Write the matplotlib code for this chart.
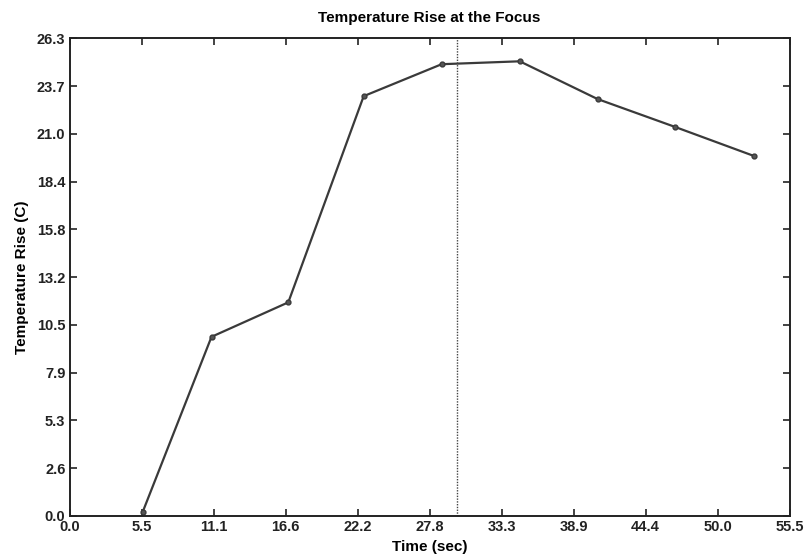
import numpy as np
import matplotlib.pyplot as plt

plt.rcParams["font.family"] = ["Liberation Sans", "DejaVu Sans"]
plt.rcParams["font.weight"] = "bold"

# values
time_s = [5.63, 10.94, 16.86, 22.67, 28.68, 34.7, 40.7, 46.65, 52.73]
temp_rise = [0.2, 9.86, 11.76, 23.12, 24.88, 25.04, 22.96, 21.43, 19.83]
focus_time = 29.9

x_ticks = [0.0, 5.5, 11.1, 16.6, 22.2, 27.8, 33.3, 38.9, 44.4, 50.0, 55.5]
y_ticks = [0.0, 2.6, 5.3, 7.9, 10.5, 13.2, 15.8, 18.4, 21.0, 23.7, 26.3]
x_max = 55.5
y_max = 26.3

fig = plt.figure(figsize=(8.09, 5.57), dpi=100)
ax = fig.add_axes([0.086, 0.074, 0.890, 0.857])

ax.plot(time_s, temp_rise, color="#3a3a3a", lw=1.6, marker="o", ms=3.5,
        mec="#3a3a3a", mfc="#555555")
ax.axvline(focus_time, color="#444444", lw=1.0, ls=(0, (1, 1)))

ax.set_xlim(0, x_max)
ax.set_ylim(0, y_max)
ax.set_xticks(np.linspace(0, x_max, len(x_ticks)))
ax.set_xticklabels([f"{v:.1f}" for v in x_ticks])
ax.set_yticks(np.linspace(0, y_max, len(y_ticks)))
ax.set_yticklabels([f"{v:.1f}" for v in y_ticks])

ax.tick_params(direction="in", length=5, width=1.2, top=True, right=True,
               labelsize=10.5, pad=3, colors="#222222")
for lab in ax.get_xticklabels() + ax.get_yticklabels():
    lab.set_fontweight("bold")
for s in ax.spines.values():
    s.set_linewidth(1.4)
    s.set_color("#222222")

ax.set_title("Temperature Rise at the Focus", fontsize=11, fontweight="bold", pad=12)
ax.set_xlabel("Time (sec)", fontsize=11, fontweight="bold", labelpad=4)
ax.set_ylabel("Temperature Rise (C)", fontsize=11, fontweight="bold", labelpad=6)

fig.savefig("out.png", dpi=100)
